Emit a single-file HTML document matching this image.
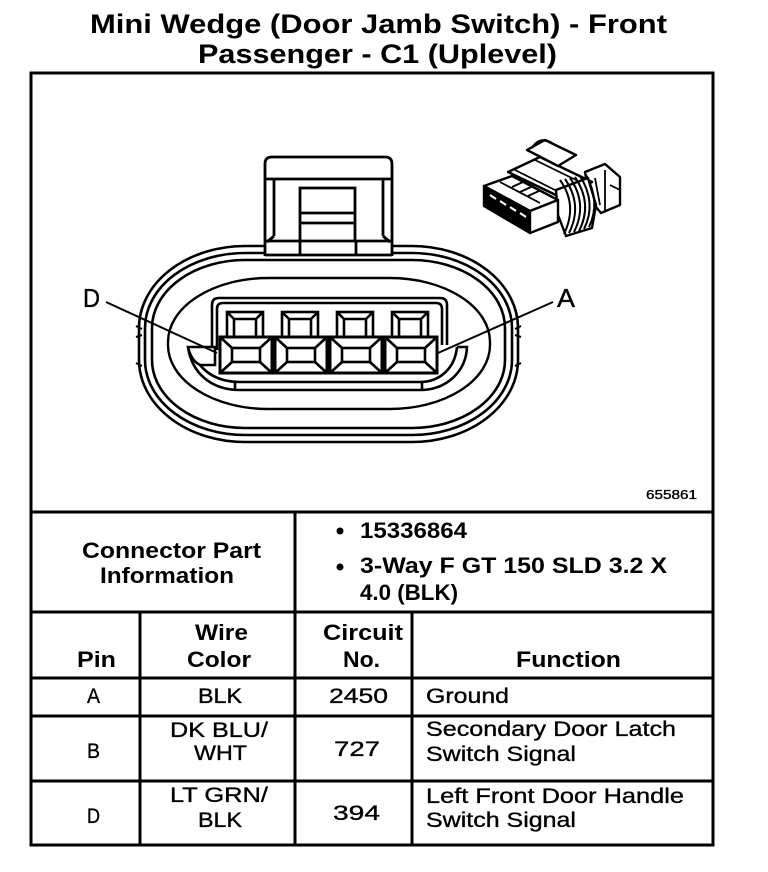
<!DOCTYPE html>
<html><head><meta charset="utf-8"><style>
html,body{margin:0;padding:0;background:#fff;}
svg{display:block;}
text{font-family:"Liberation Sans",Arial,sans-serif;fill:#000;}
.b{font-weight:bold;}
.r{stroke:#000;stroke-width:0.35;}
</style></head><body>
<svg width="768" height="872" viewBox="0 0 768 872" xmlns="http://www.w3.org/2000/svg">
<rect x="0" y="0" width="768" height="872" fill="#fff"/>
<!-- Title -->
<text class="b" x="90" y="33" font-size="27" textLength="577" lengthAdjust="spacingAndGlyphs">Mini Wedge (Door Jamb Switch) - Front</text>
<text class="b" x="198" y="63" font-size="27" textLength="359" lengthAdjust="spacingAndGlyphs">Passenger - C1 (Uplevel)</text>

<!-- Outer box & table lines -->
<g stroke="#000" stroke-width="3" fill="none">
<rect x="31" y="73" width="682" height="772"/>
<line x1="31" y1="512" x2="713" y2="512"/>
<line x1="31" y1="612" x2="713" y2="612"/>
<line x1="31" y1="678" x2="713" y2="678"/>
<line x1="31" y1="716" x2="713" y2="716"/>
<line x1="31" y1="781" x2="713" y2="781"/>
<line x1="295" y1="512" x2="295" y2="845"/>
<line x1="140" y1="612" x2="140" y2="845"/>
<line x1="412" y1="612" x2="412" y2="845"/>
</g>

<!-- Connector drawing -->
<g stroke="#000" fill="none" stroke-width="2.6">
<rect x="139" y="246" width="379" height="196" rx="106" ry="82"/>
<rect x="145" y="253" width="367" height="182" rx="100" ry="75"/>
<rect x="152" y="260" width="353" height="168" rx="93" ry="68"/>
<rect x="168" y="278" width="322" height="131" rx="100" ry="64" stroke-width="2.4"/>
<path d="M136,326 L142,329 M136,337 L142,335 M136,363 L142,366 M521,326 L515,329 M521,337 L515,335 M521,363 L515,366" stroke-width="2"/>
</g>
<!-- tab -->
<rect x="265" y="157" width="127" height="99" fill="#fff"/>
<g stroke="#000" fill="none" stroke-width="2.8">
<path d="M265,256 L265,164 Q265,157 272,157 L385,157 Q392,157 392,164 L392,256"/>
<line x1="265" y1="179" x2="392" y2="179"/>
<line x1="274" y1="179" x2="274" y2="236"/>
<line x1="383" y1="179" x2="383" y2="236"/>
<line x1="274" y1="236" x2="267" y2="242"/>
<line x1="383" y1="236" x2="390" y2="242"/>
<line x1="265" y1="241" x2="392" y2="241"/>
<path d="M300,241 L300,188 L355,188 L355,241"/>
<line x1="300" y1="213" x2="355" y2="213"/>
<line x1="300" y1="223" x2="355" y2="223"/>
<line x1="300" y1="241" x2="300" y2="255"/>
<line x1="356" y1="241" x2="356" y2="255"/>
<line x1="265" y1="255" x2="392" y2="255"/>
</g>
<!-- housing -->
<g stroke="#000" fill="none" stroke-width="2.6">
<path d="M212,353 L212,305 Q212,298 219,298 L440,298 Q447,298 447,305 L447,345"/>
<path d="M217,350 L217,309 Q217,303 223,303 L436,303 Q442,303 442,309 L442,345"/>
<g fill="#fff">
<rect x="227" y="312" width="36" height="25"/>
<rect x="282" y="312" width="36" height="25"/>
<rect x="337" y="312" width="36" height="25"/>
<rect x="392" y="312" width="36" height="25"/>
</g>
<path d="M234,337 L234,319 L256,319 L256,337 M227,312 L234,319 M263,312 L256,319
 M289,337 L289,319 L311,319 L311,337 M282,312 L289,319 M318,312 L311,319
 M344,337 L344,319 L366,319 L366,337 M337,312 L344,319 M373,312 L366,319
 M399,337 L399,319 L421,319 L421,337 M392,312 L399,319 M428,312 L421,319"/>
<g fill="#fff" stroke-width="3">
<rect x="220" y="337" width="52" height="36"/>
<rect x="275" y="337" width="52" height="36"/>
<rect x="330" y="337" width="52" height="36"/>
<rect x="385" y="337" width="52" height="36"/>
</g>
<g stroke-width="2.6">
<rect x="232" y="348" width="28" height="14"/>
<rect x="287" y="348" width="28" height="14"/>
<rect x="342" y="348" width="28" height="14"/>
<rect x="397" y="348" width="28" height="14"/>
<path d="M220,337 L232,348 M272,337 L260,348 M220,373 L232,362 M272,373 L260,362
 M275,337 L287,348 M327,337 L315,348 M275,373 L287,362 M327,373 L315,362
 M330,337 L342,348 M382,337 L370,348 M330,373 L342,362 M382,373 L370,362
 M385,337 L397,348 M437,337 L425,348 M385,373 L397,362 M437,373 L425,362"/>
</g>
<path d="M215,347 L188,347 C190,356 194,362 200,365 L215,365 Z" fill="#fff"/>
<path d="M188,347 C192,374 212,390 240,390 L420,390 C446,390 466,372 467,347 L457,347"/>
<path d="M200,365 C210,377 224,382 240,382 L420,382 C440,382 455,368 457,347"/>
<line x1="235" y1="382" x2="235" y2="390"/>
<line x1="422" y1="382" x2="422" y2="390"/>
<line x1="106" y1="302" x2="217" y2="353" stroke-width="2"/>
<line x1="553" y1="302" x2="438" y2="353" stroke-width="2"/>
</g>
<text class="r" x="83" y="307" font-size="26" textLength="17" lengthAdjust="spacingAndGlyphs">D</text>
<text class="r" x="557" y="307" font-size="26" textLength="18" lengthAdjust="spacingAndGlyphs">A</text>

<!-- small 3D connector icon -->
<g stroke="#000" stroke-width="2.4" fill="#fff" stroke-linejoin="round">
<polygon points="585,172 605,164 620,177 620,205 601,213 590,200"/>
<polygon points="508,172 540,157 592,182 560,197"/>
<polygon points="527,150 545,140 576,155 558,166"/>
<path d="M532,148 Q540,136 552,143" fill="none"/>
<polygon points="556,190 588,178 596,205 592,228 566,236 558,215"/>
<g fill="none" stroke-width="2">
<path d="M560,180 Q578,205 564,234"/>
<path d="M565,179 Q583,205 569,233"/>
<path d="M570,178 Q588,204 574,232"/>
<path d="M575,177 Q593,204 579,231"/>
<path d="M580,176 Q597,203 584,229"/>
<path d="M586,175 Q601,202 589,227"/>
</g>
<polygon points="484,186 512,176 558,200 530,211"/>
<polygon points="484,186 530,211 530,233 484,206" fill="#000"/>
<polygon points="530,211 558,200 558,222 530,233"/>
<g stroke="#fff" stroke-width="2" fill="none">
<path d="M490,195 L496,199 M500,201 L506,205 M510,207 L516,211 M520,213 L526,217"/>
</g>
<path d="M500,182 L540,203 M512,187 L523,182 M520,192 L531,187 M528,196 L539,191 M515,170 L555,190 M535,160 L580,182" fill="none" stroke-width="1.8"/>
<path d="M605,170 L605,210 M610,185 L620,190 M595,178 L600,205" fill="none" stroke-width="1.8"/>
</g>

<text class="r" x="646" y="499" font-size="13" textLength="51" lengthAdjust="spacingAndGlyphs">655861</text>

<!-- Connector part info -->
<text class="b" x="82" y="558" font-size="22" textLength="179" lengthAdjust="spacingAndGlyphs">Connector Part</text>
<text class="b" x="100" y="583" font-size="22" textLength="134" lengthAdjust="spacingAndGlyphs">Information</text>
<circle cx="340" cy="531" r="3.5" fill="#000"/>
<circle cx="340" cy="567" r="3.5" fill="#000"/>
<text class="b" x="360" y="538" font-size="22" textLength="107" lengthAdjust="spacingAndGlyphs">15336864</text>
<text class="b" x="360" y="573" font-size="22" textLength="307" lengthAdjust="spacingAndGlyphs">3-Way F GT 150 SLD 3.2 X</text>
<text class="b" x="360" y="600" font-size="22" textLength="98" lengthAdjust="spacingAndGlyphs">4.0 (BLK)</text>

<!-- Header -->
<text class="b" x="77" y="667" font-size="22" textLength="39" lengthAdjust="spacingAndGlyphs">Pin</text>
<text class="b" x="195" y="640" font-size="22" textLength="53" lengthAdjust="spacingAndGlyphs">Wire</text>
<text class="b" x="187" y="667" font-size="22" textLength="64" lengthAdjust="spacingAndGlyphs">Color</text>
<text class="b" x="323" y="640" font-size="22" textLength="80" lengthAdjust="spacingAndGlyphs">Circuit</text>
<text class="b" x="343" y="667" font-size="22" textLength="37" lengthAdjust="spacingAndGlyphs">No.</text>
<text class="b" x="516" y="667" font-size="22" textLength="105" lengthAdjust="spacingAndGlyphs">Function</text>

<!-- Row A -->
<text class="r" x="87" y="703" font-size="21.5" textLength="13" lengthAdjust="spacingAndGlyphs">A</text>
<text class="r" x="198" y="703" font-size="21.5" textLength="44" lengthAdjust="spacingAndGlyphs">BLK</text>
<text class="r" x="329" y="703" font-size="21.5" textLength="59" lengthAdjust="spacingAndGlyphs">2450</text>
<text class="r" x="426" y="703" font-size="21.5" textLength="83" lengthAdjust="spacingAndGlyphs">Ground</text>

<!-- Row B -->
<text class="r" x="87" y="758" font-size="21.5" textLength="13" lengthAdjust="spacingAndGlyphs">B</text>
<text class="r" x="170" y="737" font-size="21.5" textLength="98" lengthAdjust="spacingAndGlyphs">DK BLU/</text>
<text class="r" x="194" y="760" font-size="21.5" textLength="53" lengthAdjust="spacingAndGlyphs">WHT</text>
<text class="r" x="334" y="756" font-size="21.5" textLength="46" lengthAdjust="spacingAndGlyphs">727</text>
<text class="r" x="426" y="736" font-size="21.5" textLength="250" lengthAdjust="spacingAndGlyphs">Secondary Door Latch</text>
<text class="r" x="426" y="761" font-size="21.5" textLength="150" lengthAdjust="spacingAndGlyphs">Switch Signal</text>

<!-- Row D -->
<text class="r" x="87" y="823" font-size="21.5" textLength="13" lengthAdjust="spacingAndGlyphs">D</text>
<text class="r" x="170" y="802" font-size="21.5" textLength="98" lengthAdjust="spacingAndGlyphs">LT GRN/</text>
<text class="r" x="198" y="827" font-size="21.5" textLength="44" lengthAdjust="spacingAndGlyphs">BLK</text>
<text class="r" x="333" y="820" font-size="21.5" textLength="47" lengthAdjust="spacingAndGlyphs">394</text>
<text class="r" x="426" y="803" font-size="21.5" textLength="258" lengthAdjust="spacingAndGlyphs">Left Front Door Handle</text>
<text class="r" x="426" y="827" font-size="21.5" textLength="150" lengthAdjust="spacingAndGlyphs">Switch Signal</text>
</svg>
</body></html>
